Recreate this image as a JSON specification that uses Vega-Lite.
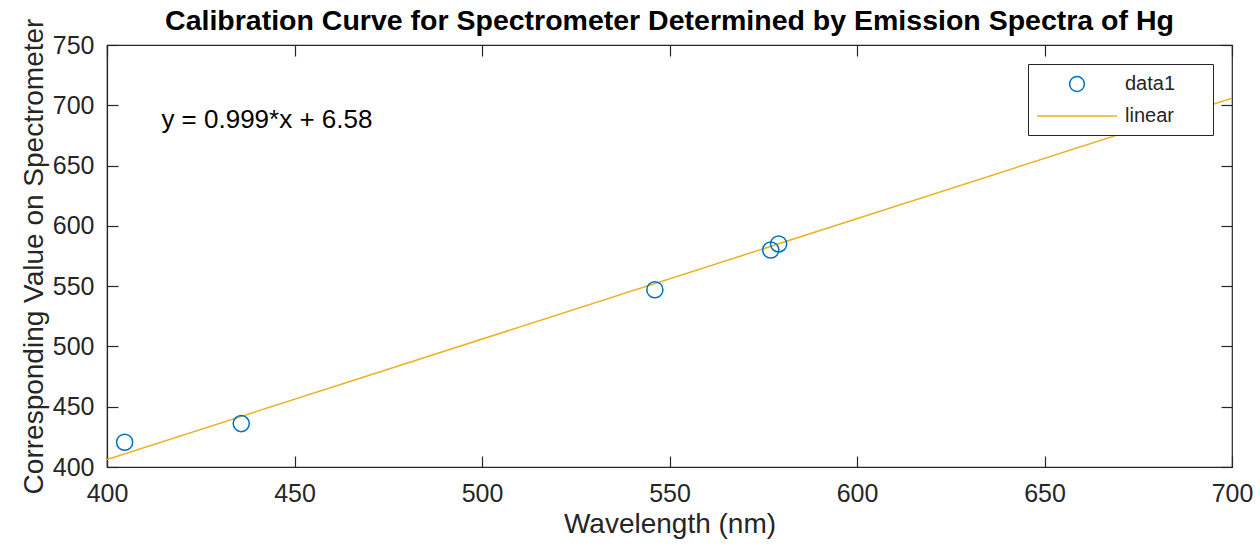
{
  "$schema": "https://vega.github.io/schema/vega-lite/v6.json",
  "width": 1125,
  "height": 422,
  "autosize": "none",
  "padding": {"left": 107, "top": 45, "right": 28, "bottom": 82},
  "background": "white",
  "config": {
    "font": "Liberation Sans",
    "view": {"stroke": "#262626", "strokeWidth": 1.2},
    "axis": {
      "grid": false,
      "labelFont": "Liberation Sans",
      "titleFont": "Liberation Sans",
      "labelFontSize": 25,
      "titleFontSize": 28,
      "labelColor": "#262626",
      "titleColor": "#262626",
      "domainColor": "#262626",
      "tickColor": "#262626",
      "titleFontWeight": "normal",
      "tickSize": -11,
      "domainWidth": 1.2,
      "tickWidth": 1.2,
      "labelFlush": false
    }
  },
  "title": {
    "text": "Calibration Curve for Spectrometer Determined by Emission Spectra of Hg",
    "font": "Liberation Sans",
    "fontSize": 28.5,
    "fontWeight": "bold",
    "color": "black",
    "offset": -17
  },
  "datasets": {
    "pts": [
      {"wavelength": 404.7, "value": 420.5, "series": "data1"},
      {"wavelength": 435.8, "value": 436.0, "series": "data1"},
      {"wavelength": 546.1, "value": 547.0, "series": "data1"},
      {"wavelength": 577.0, "value": 580.0, "series": "data1"},
      {"wavelength": 579.1, "value": 585.0, "series": "data1"}
    ],
    "fit": [
      {"wavelength": 400, "value": 406.18, "series": "linear"},
      {"wavelength": 700, "value": 705.88, "series": "linear"}
    ],
    "ann": [
      {"wavelength": 414.5, "value": 688, "label": "y = 0.999*x + 6.58"}
    ]
  },
  "resolve": {"axis": {"x": "independent", "y": "independent"}},
  "layer": [
    {
      "data": {"name": "fit"},
      "mark": {"type": "line", "strokeWidth": 1.5, "clip": true},
      "encoding": {
        "x": {
          "field": "wavelength", "type": "quantitative",
          "scale": {"domain": [400, 700], "nice": false, "zero": false},
          "axis": {"title": "Wavelength (nm)", "values": [400, 450, 500, 550, 600, 650, 700], "labelPadding": 25, "titlePadding": 4}
        },
        "y": {
          "field": "value", "type": "quantitative",
          "scale": {"domain": [400, 750], "nice": false, "zero": false},
          "axis": {"title": "Corresponding Value on Spectrometer", "values": [400, 450, 500, 550, 600, 650, 700, 750], "labelPadding": 24, "titlePadding": 4}
        },
        "color": {
          "field": "series", "type": "nominal",
          "scale": {"domain": ["data1", "linear"], "range": ["#0072BD", "#EDB120"]},
          "legend": {
            "title": "\u00a0",
            "titleOrient": "right",
            "titlePadding": 29,
            "titleFontSize": 20,
            "orient": "top-right",
            "offset": 19,
            "strokeColor": "#262626",
            "fillColor": "white",
            "padding": 9,
            "rowPadding": 10,
            "labelFontSize": 20,
            "labelColor": "#262626",
            "labelOffset": 66,
            "symbolStrokeWidth": 1.5,
            "symbolSize": 400,
            "encode": {
              "symbols": {
                "update": {
                  "x": {"value": 40},
                  "shape": {"signal": "datum.value === 'data1' ? 'circle' : 'M-4,0H4'"},
                  "size": {"signal": "datum.value === 'data1' ? 220 : 400"},
                  "fill": {"value": "transparent"},
                  "stroke": {"signal": "datum.value === 'data1' ? '#0072BD' : '#EDB120'"},
                  "strokeWidth": {"value": 1.5}
                }
              }
            }
          }
        }
      }
    },
    {
      "data": {"name": "pts"},
      "mark": {"type": "point", "filled": false, "size": 260, "strokeWidth": 1.5, "opacity": 1},
      "encoding": {
        "x": {"field": "wavelength", "type": "quantitative", "axis": {"orient": "top", "labels": false, "title": null, "domain": false, "values": [400, 450, 500, 550, 600, 650, 700]}},
        "y": {"field": "value", "type": "quantitative", "axis": {"orient": "right", "labels": false, "title": null, "domain": false, "values": [400, 450, 500, 550, 600, 650, 700, 750]}},
        "color": {"field": "series", "type": "nominal"}
      }
    },
    {
      "data": {"name": "ann"},
      "mark": {"type": "text", "align": "left", "baseline": "middle", "fontSize": 26, "color": "black", "font": "Liberation Sans"},
      "encoding": {
        "x": {"field": "wavelength", "type": "quantitative", "axis": null},
        "y": {"field": "value", "type": "quantitative", "axis": null},
        "text": {"field": "label"}
      }
    }
  ]
}
